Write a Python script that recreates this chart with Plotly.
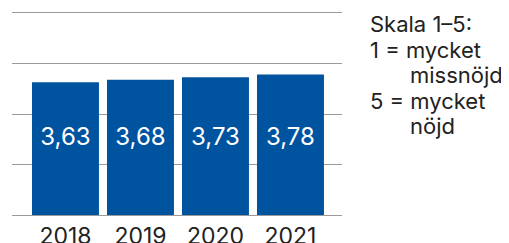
import plotly.graph_objects as go

years = ["2018", "2019", "2020", "2021"]
values = [3.63, 3.68, 3.73, 3.78]
labels = [f"{v:.2f}".replace(".", ",") for v in values]
note_lines = ["Skala 1–5:", "1 = mycket", "missnöjd", "5 = mycket", "nöjd"]

BLUE = "#00539F"
GRID = "#9a9a9a"
FONT = "Inter, Roboto, sans-serif"

# page has an 8px body margin; work in figure coordinates
OFF = 8
W, H = 509 - OFF, 243 - OFF
PL, PR, PT, PB = 12 - OFF, 342 - OFF, 13 - OFF, 215 - OFF

fig = go.Figure()
fig.add_bar(x=years, y=values, marker=dict(color=BLUE, line=dict(width=0)),
            hoverinfo="skip")
label_y = 2.5
fig.add_scatter(x=years, y=[label_y] * len(years), mode="text", text=labels,
                textposition="middle center",
                textfont=dict(color="white", size=24, family=FONT),
                hoverinfo="skip")

# note on the right (page pixel positions of line starts / baselines)
note_x = [368, 368, 408, 368, 408]
note_y = [34, 59.5, 85, 110.5, 136]
for t, x, y in zip(note_lines, note_x, note_y):
    fig.add_annotation(text=t, xref="paper", yref="paper",
                       x=(x - OFF - PL) / (PR - PL), y=(PB - (y - OFF)) / (PB - PT),
                       xanchor="left", yanchor="bottom", showarrow=False,
                       font=dict(size=22, family=FONT, color="#222"),
                       yshift=-5)

fig.update_layout(
    width=W, height=H,
    margin=dict(l=PL, r=W - PR, t=PT, b=H - PB),
    paper_bgcolor="white", plot_bgcolor="white",
    showlegend=False, bargap=0.107,
    font=dict(family=FONT, color="#222"),
)
fig.update_xaxes(range=[-0.713, 3.687], showgrid=False, ticks="",
                 tickfont=dict(size=23, family=FONT, color="#222"),
                 ticklabelstandoff=0,
                 showline=True, linecolor=GRID, linewidth=1, mirror=True,
                 automargin=False)
fig.update_yaxes(range=[1, 5], dtick=1, showgrid=True, gridcolor=GRID,
                 gridwidth=1, showticklabels=False, zeroline=False,
                 automargin=False)
fig.write_html("out.html")
